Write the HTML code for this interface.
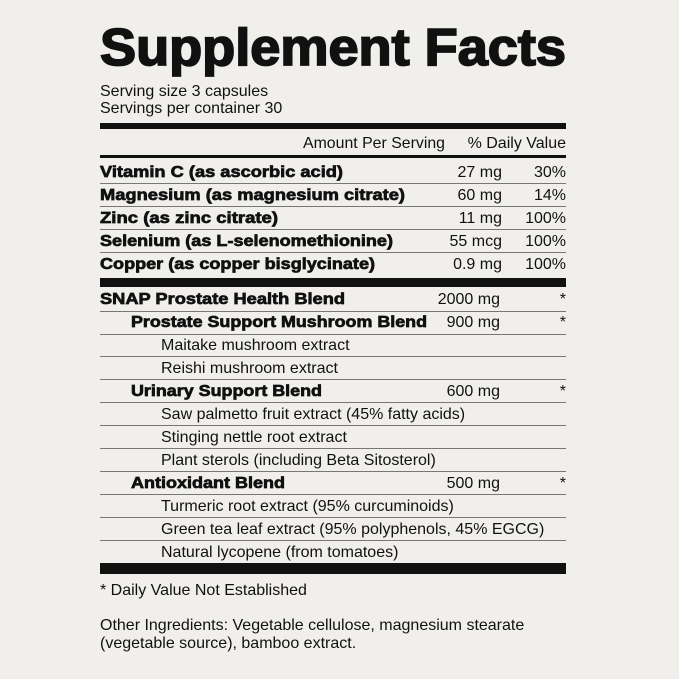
<!DOCTYPE html>
<html><head><meta charset="utf-8"><style>
html,body{margin:0;padding:0;background:#f0efeb;}
svg{display:block}
text{font-family:"Liberation Sans",Arial,sans-serif;fill:#111;}
.r{font-size:16px}
.b{font-size:16px;font-weight:bold;stroke:#111;stroke-width:0.7px}
.e{text-anchor:end}
</style></head><body>
<svg width="679" height="679" viewBox="0 0 679 679" xmlns="http://www.w3.org/2000/svg">
<rect width="679" height="679" fill="#f0efeb"/>
<text x="100" y="65" font-size="52" font-weight="bold" stroke="#111" stroke-width="1.8" textLength="466" lengthAdjust="spacingAndGlyphs">Supplement Facts</text>
<text class="r" x="100" y="96">Serving size 3 capsules</text>
<text class="r" x="100" y="113">Servings per container 30</text>
<rect x="100" y="123" width="466" height="6" fill="#111"/>
<text class="r" x="303" y="148" textLength="142" lengthAdjust="spacingAndGlyphs">Amount Per Serving</text>
<text class="r e" x="566" y="148">% Daily Value</text>
<rect x="100" y="155" width="466" height="3" fill="#111"/>

<g fill="#777">
<rect x="100" y="183" width="466" height="1"/>
<rect x="100" y="206" width="466" height="1"/>
<rect x="100" y="229" width="466" height="1"/>
<rect x="100" y="252" width="466" height="1"/>
<rect x="100" y="311" width="466" height="1"/>
<rect x="100" y="334" width="466" height="1"/>
<rect x="100" y="356" width="466" height="1"/>
<rect x="100" y="379" width="466" height="1"/>
<rect x="100" y="402" width="466" height="1"/>
<rect x="100" y="425" width="466" height="1"/>
<rect x="100" y="448" width="466" height="1"/>
<rect x="100" y="471" width="466" height="1"/>
<rect x="100" y="494" width="466" height="1"/>
<rect x="100" y="517" width="466" height="1"/>
<rect x="100" y="540" width="466" height="1"/>
</g>
<rect x="100" y="278" width="466" height="9" fill="#111"/>
<rect x="100" y="563" width="466" height="11" fill="#111"/>

<text class="b" x="100" y="177" textLength="243" lengthAdjust="spacingAndGlyphs">Vitamin C (as ascorbic acid)</text>
<text class="r e" x="502" y="177">27 mg</text><text class="r e" x="566" y="177">30%</text>
<text class="b" x="100" y="200" textLength="305" lengthAdjust="spacingAndGlyphs">Magnesium (as magnesium citrate)</text>
<text class="r e" x="502" y="200">60 mg</text><text class="r e" x="566" y="200">14%</text>
<text class="b" x="100" y="223" textLength="178" lengthAdjust="spacingAndGlyphs">Zinc (as zinc citrate)</text>
<text class="r e" x="502" y="223">11 mg</text><text class="r e" x="566" y="223">100%</text>
<text class="b" x="100" y="246" textLength="293" lengthAdjust="spacingAndGlyphs">Selenium (as L-selenomethionine)</text>
<text class="r e" x="502" y="246">55 mcg</text><text class="r e" x="566" y="246">100%</text>
<text class="b" x="100" y="269" textLength="275" lengthAdjust="spacingAndGlyphs">Copper (as copper bisglycinate)</text>
<text class="r e" x="502" y="269">0.9 mg</text><text class="r e" x="566" y="269">100%</text>

<text class="b" x="100" y="304" textLength="245" lengthAdjust="spacingAndGlyphs">SNAP Prostate Health Blend</text>
<text class="r e" x="500" y="304">2000 mg</text><text class="r e" x="566" y="304">*</text>
<text class="b" x="131" y="327" textLength="296" lengthAdjust="spacingAndGlyphs">Prostate Support Mushroom Blend</text>
<text class="r e" x="500" y="327">900 mg</text><text class="r e" x="566" y="327">*</text>
<text class="r" x="161" y="350">Maitake mushroom extract</text>
<text class="r" x="161" y="373">Reishi mushroom extract</text>
<text class="b" x="131" y="396" textLength="191" lengthAdjust="spacingAndGlyphs">Urinary Support Blend</text>
<text class="r e" x="500" y="396">600 mg</text><text class="r e" x="566" y="396">*</text>
<text class="r" x="161" y="419">Saw palmetto fruit extract (45% fatty acids)</text>
<text class="r" x="161" y="442">Stinging nettle root extract</text>
<text class="r" x="161" y="465">Plant sterols (including Beta Sitosterol)</text>
<text class="b" x="131" y="488" textLength="154" lengthAdjust="spacingAndGlyphs">Antioxidant Blend</text>
<text class="r e" x="500" y="488">500 mg</text><text class="r e" x="566" y="488">*</text>
<text class="r" x="161" y="511">Turmeric root extract (95% curcuminoids)</text>
<text class="r" x="161" y="534">Green tea leaf extract (95% polyphenols, 45% EGCG)</text>
<text class="r" x="161" y="557">Natural lycopene (from tomatoes)</text>

<text class="r" x="100" y="595">* Daily Value Not Established</text>
<text class="r" x="100" y="630">Other Ingredients: Vegetable cellulose, magnesium stearate</text>
<text class="r" x="100" y="648">(vegetable source), bamboo extract.</text>
</svg>
</body></html>
